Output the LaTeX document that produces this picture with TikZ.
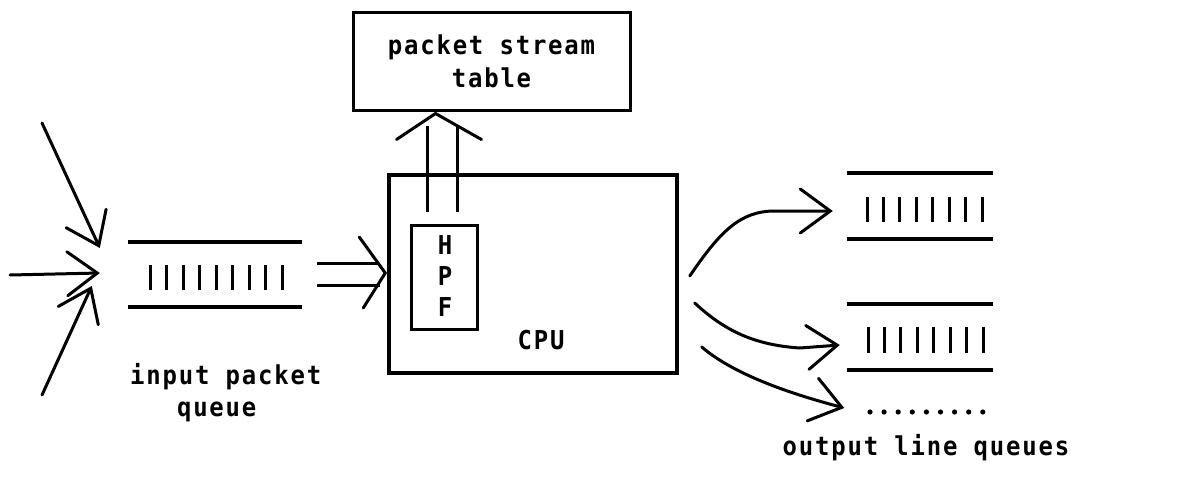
\documentclass[tikz,border=0pt]{standalone}
\usepackage{fontspec}
\newfontfamily\twfont[LetterSpace=7,FakeStretch=0.92]{DejaVu Sans Mono}
\usetikzlibrary{arrows.meta}

\begin{document}
\begin{tikzpicture}[x=1pt,y=-1pt,
  txt/.style={font=\fontsize{26pt}{32pt}\selectfont\twfont\bfseries, inner sep=0pt},
  boxnode/.style={draw, line width=3pt, rectangle, inner sep=0pt},
  slot/.style={rectangle, inner sep=0pt, minimum height=66pt},
  rail/.style={line width=3.5pt},
  bar/.style={line width=3pt},
  feed/.style={line width=3pt, line cap=round,
    -{Straight Barb[length=30pt,width=44pt,line cap=round]}},
  twin/.style={line width=3pt},
  chev/.style={line width=3pt, line cap=round, line join=miter}]

\useasboundingbox (0,0) rectangle (1195,485);

% main blocks
\node[boxnode, minimum width=277pt, minimum height=98pt, txt, align=center]
  (tbl) at (491.5,61) {packet stream\\[1pt]table};
\node[boxnode, line width=3.5pt, minimum width=288pt, minimum height=198pt] (cpu) at (533,274) {};
\node[boxnode, minimum width=66pt, minimum height=104pt] (hpf) at (444,277) {};
\node[txt, align=center, font=\fontsize{26pt}{31pt}\selectfont\twfont\bfseries] (hpft) at (445,276) {H\\P\\F};
\node[txt] (cpul) at (541,340) {CPU};

% input packet queue
\node[slot, minimum width=174pt, minimum height=65pt] (qin) at (215,274.5) {};
\draw[rail] (qin.north west) -- (qin.north east);
\draw[rail] (qin.south west) -- (qin.south east);
\foreach \i in {0,...,8} \draw[bar] ({150+16.5*\i},265) -- ++(0,25);
\node[txt, align=left, anchor=north west] (qinl) at (130,363)
  {input packet\\[0pt]\phantom{inp}queue};

% output line queues
\node[slot, minimum width=146pt] (q1) at (920,206) {};
\node[slot, minimum width=146pt] (q2) at (920,337) {};
\foreach \q in {q1,q2} {
  \draw[rail] (\q.north west) -- (\q.north east);
  \draw[rail] (\q.south west) -- (\q.south east);
}
\foreach \i in {0,...,7} {
  \draw[bar] ({867+16.43*\i},197) -- ++(0,25);
  \draw[bar] ({868+16.43*\i},327) -- ++(0,26);
}
\node[rectangle, inner sep=0pt, minimum width=118pt, minimum height=6pt] (qd) at (926.5,412) {};
\foreach \i in {0,...,8} \fill ({870+14.1*\i},412) circle (2.6pt);
\node[txt, anchor=base] (qoutl) at (926,455) {output line queues};

% incoming packets
\coordinate (s1) at (42,123);
\coordinate (s2) at (10,275);
\coordinate (s3) at (42,395);
\draw[feed] (s1) -- ([shift={(-28,-26.5)}]qin.west);
\draw[feed] (s2) -- ([shift={(-28,-1.5)}]qin.west);
\draw[feed] (s3) -- ([shift={(-36,11.5)}]qin.west);

% queue into the CPU
\draw[twin] ([shift={(15,-11.5)}]qin.east) -- ([shift={(-8,-11)}]cpu.west);
\draw[twin] ([shift={(15,10.5)}]qin.east) -- ([shift={(-7,11)}]cpu.west);
\draw[chev] ([shift={(-28,-37)}]cpu.west) -- ([shift={(-2,-1)}]cpu.west) -- ([shift={(-24,34)}]cpu.west);

% filter to the stream table
\coordinate (tb) at ([yshift=-14pt]tbl.south);
\draw[twin] ([shift={(-17,-12)}]hpf.north) -- ([xshift=-17pt]hpf.north |- tb);
\draw[twin] ([shift={(13,-12)}]hpf.north) -- ([xshift=13pt]hpf.north |- tb);
\draw[chev] ([shift={(-95,28)}]tbl.south) -- ([shift={(-56,2)}]tbl.south) -- ([shift={(-10,28)}]tbl.south);

% CPU to the output lines
\draw[feed] ([shift={(11,2)}]cpu.east) .. controls +(30,-44) and +(-35,0) ..
  ([shift={(-72,5)}]q1.west) -- ([shift={(-14,5)}]q1.west);
\draw[feed] ([shift={(16,29)}]cpu.east) .. controls +(30,28) and +(-45,-3) ..
  ([shift={(-47,11)}]q2.west) -- ([shift={(-7,8)}]q2.west);
\draw[feed] ([shift={(23,73)}]cpu.east) .. controls +(35,30) and +(-45,-12) ..
  ([shift={(-23,-4)}]qd.west);
\end{tikzpicture}
\end{document}
